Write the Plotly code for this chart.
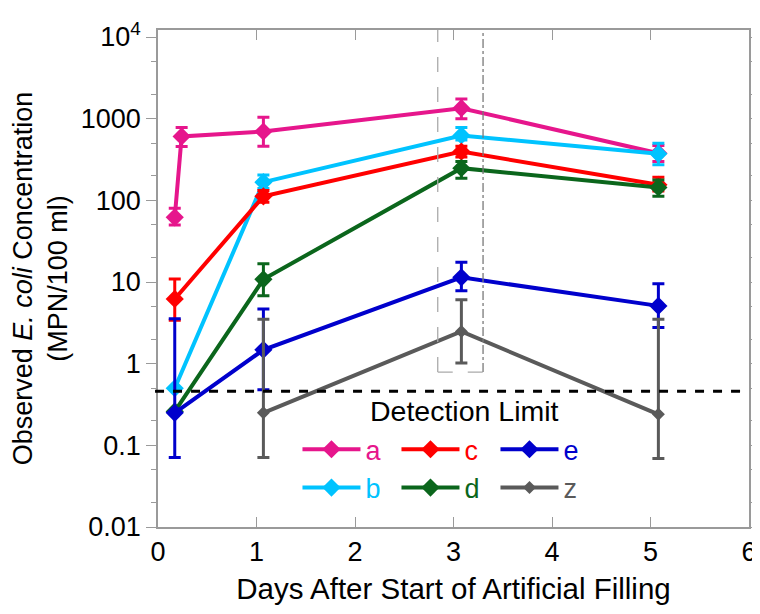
import math
import plotly.graph_objects as go

# ---------------- data ----------------
x_a = [0.17, 0.24, 1.07, 3.08, 5.08]
a_val = [62, 606, 697, 1344, 378]
a_hi = [80, 780, 1042, 1747, 470]
a_lo = [50, 457, 460, 995, 300]

x_b = [0.17, 1.07, 3.08, 5.08]
b_val = [0.50, 167, 623, 371]
b_hi = [0.50, 204, 780, 502]
b_lo = [0.50, 140, 550, 272]

x_c = [0.17, 1.07, 3.08, 5.08]
c_val = [6.2, 112, 396, 155]
c_hi = [10.9, 132, 460, 192]
c_lo = [3.4, 95, 340, 130]

x_d = [0.17, 1.07, 3.08, 5.08]
d_val = [0.26, 10.8, 248, 144]
d_hi = [0.26, 16.7, 299, 178]
d_lo = [0.26, 6.8, 187, 112]

x_e = [0.17, 1.07, 3.08, 5.08]
e_val = [0.25, 1.48, 11.4, 5.1]
e_hi = [3.54, 4.66, 17.5, 9.5]
e_lo = [0.071, 0.48, 7.8, 2.78]

x_z = [1.07, 3.08, 5.08]
z_val = [0.25, 2.48, 0.24]
z_hi = [3.5, 6.06, 3.5]
z_lo = [0.071, 1.02, 0.069]

DETECTION_LIMIT = 0.46
highlight_x = [2.84, 3.30]
highlight_ymin = 0.79

y_tickvals = [0.01, 0.1, 1, 10, 100, 1000, 10000]
y_ticktext = ["0.01", "0.1", "1", "10", "100", "1000", "10<sup>4</sup>"]
x_tickvals = [0, 1, 2, 3, 4, 5, 6]

FONT = "Liberation Sans, Arial, Helvetica, sans-serif"
FS = 27
AXC = "#9a9a9a"
Y_TOP = 4.086

series = [
    ("a", x_a, a_val, a_hi, a_lo, "#E6168C", 14, "legend"),
    ("b", x_b, b_val, b_hi, b_lo, "#00C3FF", 14, "legend2"),
    ("c", x_c, c_val, c_hi, c_lo, "#FF0000", 14, "legend"),
    ("d", x_d, d_val, d_hi, d_lo, "#0B661C", 14, "legend2"),
    ("e", x_e, e_val, e_hi, e_lo, "#0000CC", 14, "legend"),
    ("z", x_z, z_val, z_hi, z_lo, "#5A5A5A", 10, "legend2"),
]
rank = {"a": 1, "c": 2, "e": 3, "b": 1, "d": 2, "z": 3}

fig = go.Figure()
for name, xs, v, hi, lo, col, ms, lg in series:
    fig.add_trace(go.Scatter(
        x=xs, y=v, mode="lines+markers",
        name=f"<span style='color:{col}'>{name}</span>",
        line=dict(color=col, width=4),
        marker=dict(symbol="diamond", size=ms, color=col),
        error_y=dict(type="data", symmetric=False,
                     array=[h - y for h, y in zip(hi, v)],
                     arrayminus=[y - l for y, l in zip(v, lo)],
                     color=col, thickness=3, width=6),
        legend=lg, legendrank=rank[name],
    ))

# detection limit line
fig.add_shape(type="line", xref="paper", yref="y", x0=-0.005, x1=0.99,
              y0=DETECTION_LIMIT, y1=DETECTION_LIMIT,
              line=dict(color="black", width=3, dash="dash"))
fig.add_annotation(x=3.11, y=math.log10(DETECTION_LIMIT), xref="x", yref="y",
                   yshift=-20, text="Detection Limit", showarrow=False,
                   font=dict(family=FONT, size=28.5, color="black"))

# highlight box around day 3
box_light = dict(color="#AAAAAA", width=1.3, dash="longdash")
fig.add_shape(type="line", xref="x", yref="y", x0=highlight_x[0], x1=highlight_x[0],
              y0=highlight_ymin, y1=10**Y_TOP, line=box_light)
fig.add_shape(type="line", xref="x", yref="y", x0=highlight_x[0], x1=highlight_x[1],
              y0=highlight_ymin, y1=highlight_ymin, line=box_light)
fig.add_shape(type="line", xref="x", yref="y", x0=highlight_x[1], x1=highlight_x[1],
              y0=highlight_ymin, y1=10**Y_TOP,
              line=dict(color="#7A7A7A", width=1.3, dash="dashdot"))

leg_common = dict(orientation="h", xanchor="left", yanchor="middle",
                  entrywidth=26, entrywidthmode="pixels", itemwidth=58,
                  font=dict(family=FONT, size=FS), bgcolor="rgba(0,0,0,0)",
                  borderwidth=0, traceorder="normal", tracegroupgap=0)

fig.update_layout(
    width=760, height=614,
    margin=dict(l=150, r=19, t=22, b=95, autoexpand=False),
    paper_bgcolor="white", plot_bgcolor="white",
    font=dict(family=FONT, size=FS, color="black"),
    showlegend=True,
    legend=dict(x=0.236, y=0.1555, **leg_common),
    legend2=dict(x=0.236, y=0.0785, **leg_common),
    xaxis=dict(range=[0, 6], tickvals=x_tickvals, ticks="inside", ticklen=10,
               tickcolor=AXC, showline=True, linecolor=AXC, linewidth=1.5,
               mirror="ticks", showgrid=False, zeroline=False, automargin=False,
               tickfont=dict(family=FONT, size=FS),
               title=dict(text="Days After Start of Artificial Filling",
                          font=dict(family=FONT, size=29.5), standoff=12)),
    yaxis=dict(type="log", range=[-2, Y_TOP], tickvals=y_tickvals, ticktext=y_ticktext,
               ticks="outside", ticklen=10, tickcolor=AXC, showline=True,
               linecolor=AXC, linewidth=1.5, mirror="ticks", showgrid=False,
               zeroline=False, automargin=False, tickfont=dict(family=FONT, size=FS),
               minor=dict(ticks="outside", ticklen=5, tickcolor=AXC, showgrid=False),
               title=dict(text="Observed <i>E. coli</i> Concentration<br>(MPN/100 ml)",
                          font=dict(family=FONT, size=FS), standoff=6)),
)

fig.write_html("out.html")
